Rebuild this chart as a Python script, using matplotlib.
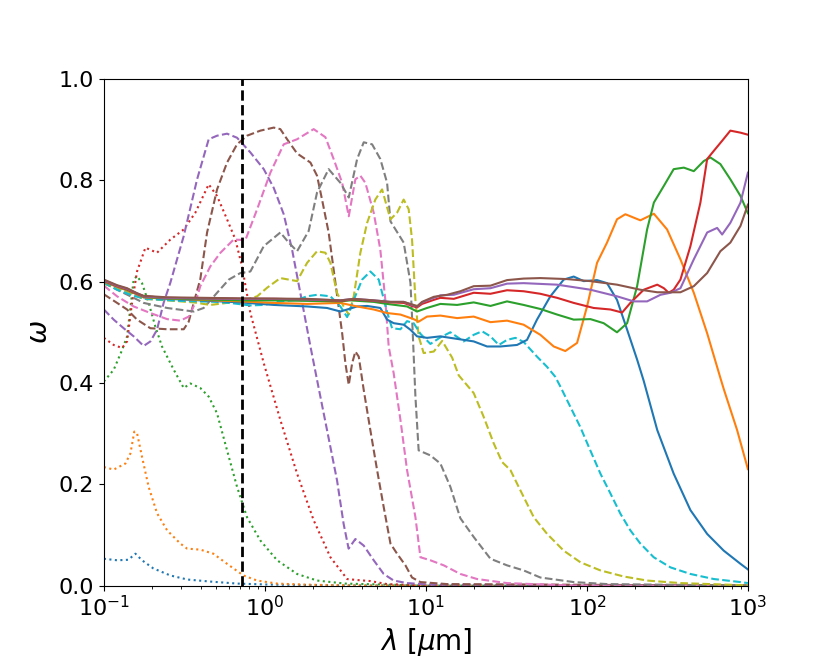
import numpy as np
import matplotlib
matplotlib.use("Agg")
import matplotlib.pyplot as plt

# ---- data: log10(wavelength / um) and single-scattering albedo omega ----
# dotted curves
lg_dot_blue = [-1.0, -0.917, -0.848, -0.804, -0.763, -0.693, -0.587, -0.481, -0.339, -0.171, 0.034, 0.5, 1.0, 3.0]
w_dot_blue = [0.053, 0.050, 0.051, 0.063, 0.050, 0.034, 0.020, 0.012, 0.008, 0.004, 0.002, 0.0005, 0.0, 0.0]

lg_dot_orange = [-1.0, -0.939, -0.866, -0.835, -0.811, -0.794, -0.763, -0.722, -0.670, -0.607, -0.525, -0.483,
                 -0.401, -0.320, -0.235, -0.133, -0.048, 0.076, 0.239, 0.6, 3.0]
w_dot_orange = [0.234, 0.229, 0.241, 0.261, 0.304, 0.301, 0.254, 0.195, 0.143, 0.109, 0.083, 0.073,
                0.071, 0.063, 0.043, 0.020, 0.010, 0.004, 0.002, 0.0, 0.0]

lg_dot_green = [-1.0, -0.939, -0.887, -0.856, -0.815, -0.794, -0.763, -0.722, -0.680, -0.639, -0.566, -0.504,
                -0.463, -0.401, -0.349, -0.297, -0.235, -0.173, -0.111, -0.028, 0.076, 0.200, 0.324, 0.5, 1.0, 3.0]
w_dot_green = [0.403, 0.426, 0.465, 0.492, 0.604, 0.611, 0.597, 0.558, 0.511, 0.472, 0.426, 0.390,
               0.399, 0.390, 0.373, 0.340, 0.267, 0.195, 0.135, 0.089, 0.050, 0.023, 0.010, 0.004, 0.0, 0.0]

lg_dot_red = [-1.0, -0.939, -0.887, -0.856, -0.825, -0.794, -0.742, -0.670, -0.587, -0.504, -0.432, -0.349,
              -0.297, -0.235, -0.183, -0.142, -0.090, -0.007, 0.096, 0.200, 0.303, 0.407, 0.511, 0.573,
              0.655, 0.759, 0.922, 1.3, 3.0]
w_dot_red = [0.489, 0.475, 0.469, 0.482, 0.558, 0.620, 0.667, 0.657, 0.683, 0.703, 0.736, 0.792,
             0.769, 0.723, 0.683, 0.630, 0.538, 0.439, 0.327, 0.221, 0.129, 0.056, 0.013, 0.011,
             0.009, 0.003, 0.001, 0.0, 0.0]

# dashed curves
lg_dash_purple = [-1.0, -0.939, -0.877, -0.815, -0.753, -0.711, -0.670, -0.629, -0.587, -0.504, -0.421, -0.349,
                  -0.297, -0.235, -0.173, -0.090, -0.007, 0.055, 0.117, 0.169, 0.220, 0.283, 0.324, 0.386,
                  0.448, 0.489, 0.520, 0.562, 0.614, 0.676, 0.738, 0.800, 0.883, 1.028, 3.0]
w_dash_purple = [0.545, 0.525, 0.508, 0.492, 0.473, 0.482, 0.505, 0.558, 0.598, 0.690, 0.802, 0.881,
                 0.888, 0.892, 0.884, 0.855, 0.822, 0.785, 0.733, 0.663, 0.578, 0.472, 0.406, 0.307,
                 0.208, 0.122, 0.073, 0.092, 0.079, 0.050, 0.023, 0.010, 0.005, 0.002, 0.0]

lg_dash_brown = [-1.0, -0.918, -0.856, -0.794, -0.711, -0.607, -0.504, -0.473, -0.442, -0.401, -0.359, -0.297,
                 -0.235, -0.173, -0.111, -0.028, 0.055, 0.096, 0.138, 0.200, 0.283, 0.324, 0.355, 0.396,
                 0.438, 0.480, 0.500, 0.521, 0.542, 0.562, 0.583, 0.614, 0.655, 0.697, 0.738, 0.780,
                 0.821, 0.873, 0.914, 0.966, 1.132, 3.0]
w_dash_brown = [0.575, 0.558, 0.545, 0.525, 0.508, 0.506, 0.506, 0.521, 0.558, 0.605, 0.697, 0.782,
                0.835, 0.871, 0.888, 0.898, 0.904, 0.901, 0.881, 0.853, 0.835, 0.809, 0.762, 0.697,
                0.598, 0.498, 0.439, 0.396, 0.439, 0.462, 0.452, 0.386, 0.307, 0.228, 0.155, 0.083,
                0.063, 0.040, 0.016, 0.007, 0.003, 0.0]

lg_dash_pink = [-1.0, -0.918, -0.815, -0.711, -0.607, -0.525, -0.473, -0.432, -0.401, -0.339, -0.276, -0.194,
                -0.121, -0.048, 0.034, 0.117, 0.200, 0.303, 0.376, 0.427, 0.480, 0.521, 0.562, 0.593,
                0.624, 0.676, 0.717, 0.748, 0.769, 0.800, 0.842, 0.883, 0.935, 0.966, 1.028, 1.111,
                1.214, 1.318, 1.504, 1.916, 3.0]
w_dash_pink = [0.592, 0.571, 0.551, 0.538, 0.526, 0.523, 0.531, 0.558, 0.591, 0.630, 0.657, 0.683,
               0.682, 0.743, 0.815, 0.871, 0.881, 0.901, 0.885, 0.842, 0.795, 0.729, 0.802, 0.809,
               0.795, 0.736, 0.663, 0.564, 0.472, 0.419, 0.327, 0.228, 0.135, 0.056, 0.050, 0.040,
               0.023, 0.013, 0.005, 0.0, 0.0]

lg_dash_gray = [-1.0, -0.918, -0.815, -0.753, -0.607, -0.442, -0.380, -0.297, -0.224, -0.152, -0.090, -0.007,
                0.096, 0.148, 0.200, 0.272, 0.324, 0.396, 0.469, 0.521, 0.573, 0.614, 0.666, 0.717,
                0.759, 0.780, 0.862, 0.904, 0.914, 0.935, 0.955, 1.028, 1.090, 1.152, 1.214, 1.297,
                1.401, 1.504, 1.607, 1.711, 1.918, 2.126, 3.0]
w_dash_gray = [0.598, 0.584, 0.568, 0.558, 0.548, 0.541, 0.548, 0.578, 0.604, 0.617, 0.620, 0.670,
               0.697, 0.677, 0.660, 0.700, 0.776, 0.822, 0.795, 0.766, 0.842, 0.875, 0.871, 0.842,
               0.795, 0.719, 0.677, 0.598, 0.531, 0.373, 0.267, 0.257, 0.241, 0.195, 0.133, 0.096,
               0.053, 0.040, 0.030, 0.016, 0.007, 0.003, 0.0]

lg_dash_olive = [-1.0, -0.898, -0.815, -0.753, -0.607, -0.442, -0.339, -0.235, -0.152, -0.048, 0.014, 0.096,
                 0.148, 0.200, 0.262, 0.324, 0.376, 0.407, 0.448, 0.489, 0.521, 0.552, 0.593, 0.635,
                 0.686, 0.728, 0.780, 0.821, 0.862, 0.893, 0.914, 0.935, 0.955, 0.986, 1.049, 1.101,
                 1.163, 1.204, 1.297, 1.359, 1.421, 1.473, 1.525, 1.587, 1.670, 1.753, 1.856, 1.960,
                 2.084, 2.229, 2.374, 2.581, 2.954, 3.0]
w_dash_olive = [0.596, 0.584, 0.574, 0.566, 0.563, 0.559, 0.554, 0.558, 0.561, 0.571, 0.588, 0.607,
                0.604, 0.601, 0.637, 0.660, 0.657, 0.637, 0.578, 0.551, 0.535, 0.571, 0.657, 0.716,
                0.762, 0.782, 0.723, 0.736, 0.762, 0.743, 0.683, 0.564, 0.492, 0.459, 0.462, 0.483,
                0.450, 0.415, 0.380, 0.333, 0.281, 0.244, 0.228, 0.188, 0.135, 0.102, 0.069, 0.046,
                0.030, 0.018, 0.010, 0.005, 0.001, 0.001]

lg_dash_cyan = [-1.0, -0.918, -0.815, -0.742, -0.525, -0.297, -0.194, -0.090, -0.007, 0.096, 0.200, 0.262,
                0.324, 0.407, 0.469, 0.511, 0.552, 0.604, 0.655, 0.707, 0.759, 0.790, 0.842, 0.883,
                0.924, 0.966, 1.028, 1.090, 1.152, 1.235, 1.297, 1.349, 1.401, 1.453, 1.504, 1.556,
                1.607, 1.690, 1.752, 1.804, 1.835, 1.897, 1.959, 2.021, 2.084, 2.146, 2.208, 2.270,
                2.332, 2.415, 2.519, 2.643, 2.788, 2.954, 3.0]
w_dash_cyan = [0.598, 0.584, 0.572, 0.566, 0.562, 0.560, 0.557, 0.553, 0.554, 0.561, 0.564, 0.571,
               0.574, 0.571, 0.551, 0.530, 0.564, 0.604, 0.620, 0.604, 0.540, 0.508, 0.506, 0.522,
               0.518, 0.497, 0.477, 0.490, 0.500, 0.482, 0.495, 0.502, 0.492, 0.475, 0.485, 0.489,
               0.481, 0.452, 0.432, 0.412, 0.393, 0.353, 0.313, 0.267, 0.221, 0.182, 0.142, 0.109,
               0.083, 0.056, 0.036, 0.023, 0.013, 0.007, 0.005]

# solid curves
lg_sol_blue = [-1.0, -0.918, -0.856, -0.794, -0.753, -0.607, -0.401, -0.152, 0.055, 0.262, 0.386, 0.469,
               0.511, 0.573, 0.635, 0.717, 0.759, 0.800, 0.862, 0.904, 0.945, 1.007, 1.090, 1.152,
               1.235, 1.297, 1.380, 1.463, 1.566, 1.628, 1.690, 1.773, 1.856, 1.918, 1.980, 2.063,
               2.125, 2.187, 2.250, 2.312, 2.353, 2.437, 2.539, 2.643, 2.747, 2.850, 2.954, 3.0]
w_sol_blue = [0.600, 0.590, 0.583, 0.575, 0.569, 0.566, 0.563, 0.559, 0.554, 0.551, 0.548, 0.541,
              0.545, 0.551, 0.552, 0.548, 0.525, 0.518, 0.515, 0.505, 0.492, 0.489, 0.492, 0.489,
              0.485, 0.482, 0.472, 0.472, 0.475, 0.485, 0.525, 0.571, 0.604, 0.610, 0.601, 0.603,
              0.597, 0.564, 0.505, 0.446, 0.404, 0.307, 0.221, 0.149, 0.102, 0.069, 0.043, 0.032]

lg_sol_orange = [-1.0, -0.918, -0.856, -0.794, -0.753, -0.607, -0.401, -0.152, 0.055, 0.262, 0.469, 0.573,
                 0.676, 0.759, 0.842, 0.924, 0.955, 1.007, 1.090, 1.194, 1.297, 1.401, 1.504, 1.607,
                 1.711, 1.794, 1.866, 1.939, 2.001, 2.063, 2.125, 2.187, 2.239, 2.332, 2.416, 2.498,
                 2.581, 2.664, 2.747, 2.829, 2.850, 2.933, 3.0]
w_sol_orange = [0.600, 0.590, 0.583, 0.575, 0.569, 0.567, 0.564, 0.561, 0.558, 0.556, 0.558, 0.551,
                0.545, 0.538, 0.535, 0.526, 0.521, 0.531, 0.533, 0.528, 0.531, 0.520, 0.523, 0.515,
                0.495, 0.472, 0.463, 0.479, 0.551, 0.637, 0.677, 0.723, 0.733, 0.721, 0.734, 0.703,
                0.644, 0.578, 0.498, 0.410, 0.388, 0.307, 0.230]

lg_sol_green = [-1.0, -0.918, -0.856, -0.794, -0.753, -0.607, -0.401, -0.152, 0.055, 0.262, 0.469, 0.531,
                0.676, 0.759, 0.883, 0.945, 1.007, 1.090, 1.194, 1.297, 1.401, 1.504, 1.607, 1.711,
                1.815, 1.918, 2.022, 2.104, 2.187, 2.250, 2.312, 2.374, 2.416, 2.478, 2.539, 2.602,
                2.664, 2.726, 2.767, 2.829, 2.891, 2.954, 3.0]
w_sol_green = [0.601, 0.591, 0.584, 0.576, 0.570, 0.567, 0.565, 0.563, 0.563, 0.562, 0.561, 0.563,
               0.560, 0.556, 0.551, 0.541, 0.548, 0.556, 0.554, 0.559, 0.552, 0.561, 0.554, 0.546,
               0.535, 0.525, 0.526, 0.518, 0.500, 0.518, 0.591, 0.703, 0.756, 0.789, 0.822, 0.825,
               0.818, 0.838, 0.845, 0.832, 0.802, 0.769, 0.735]

lg_sol_red = [-1.0, -0.918, -0.856, -0.794, -0.753, -0.607, -0.401, -0.152, 0.055, 0.262, 0.469, 0.552,
              0.676, 0.780, 0.862, 0.924, 0.945, 0.976, 1.049, 1.090, 1.173, 1.297, 1.401, 1.504,
              1.607, 1.711, 1.815, 1.918, 2.042, 2.146, 2.219, 2.270, 2.353, 2.437, 2.478, 2.508,
              2.539, 2.581, 2.643, 2.705, 2.747, 2.788, 2.840, 2.891, 2.954, 3.0]
w_sol_red = [0.602, 0.591, 0.585, 0.576, 0.571, 0.568, 0.567, 0.566, 0.566, 0.565, 0.562, 0.565,
             0.562, 0.559, 0.558, 0.551, 0.549, 0.556, 0.564, 0.568, 0.566, 0.578, 0.576, 0.583,
             0.581, 0.576, 0.568, 0.558, 0.548, 0.545, 0.539, 0.558, 0.584, 0.594, 0.587, 0.578,
             0.584, 0.604, 0.670, 0.756, 0.842, 0.858, 0.878, 0.898, 0.894, 0.890]

lg_sol_purple = [-1.0, -0.918, -0.856, -0.794, -0.753, -0.607, -0.401, -0.152, 0.055, 0.262, 0.469, 0.552,
                 0.676, 0.780, 0.862, 0.924, 0.945, 0.976, 1.049, 1.090, 1.173, 1.297, 1.401, 1.504,
                 1.607, 1.815, 2.022, 2.187, 2.291, 2.374, 2.457, 2.519, 2.581, 2.664, 2.747, 2.809,
                 2.840, 2.891, 2.954, 3.0]
w_sol_purple = [0.603, 0.592, 0.586, 0.577, 0.571, 0.568, 0.567, 0.566, 0.566, 0.565, 0.563, 0.566,
                0.563, 0.560, 0.560, 0.553, 0.551, 0.559, 0.568, 0.573, 0.574, 0.585, 0.587, 0.596,
                0.597, 0.594, 0.584, 0.571, 0.561, 0.561, 0.574, 0.578, 0.587, 0.644, 0.697, 0.706,
                0.693, 0.716, 0.756, 0.815]

lg_sol_brown = [-1.0, -0.918, -0.856, -0.794, -0.753, -0.607, -0.152, 0.262, 0.469, 0.552, 0.676, 0.780,
                0.862, 0.924, 0.945, 0.976, 1.049, 1.132, 1.214, 1.297, 1.401, 1.504, 1.607, 1.711,
                1.877, 2.022, 2.187, 2.332, 2.437, 2.581, 2.664, 2.747, 2.829, 2.891, 2.954, 3.0]
w_sol_brown = [0.604, 0.593, 0.587, 0.577, 0.572, 0.569, 0.567, 0.566, 0.563, 0.566, 0.563, 0.560,
               0.560, 0.554, 0.551, 0.560, 0.570, 0.574, 0.581, 0.591, 0.592, 0.603, 0.606, 0.607,
               0.605, 0.601, 0.594, 0.584, 0.579, 0.579, 0.591, 0.617, 0.660, 0.677, 0.710, 0.752]

lam_marker = 0.716  # vertical dashed line position (um)

curves = [
    (lg_dot_blue, w_dot_blue, "C0", ":"),
    (lg_dot_orange, w_dot_orange, "C1", ":"),
    (lg_dot_green, w_dot_green, "C2", ":"),
    (lg_dot_red, w_dot_red, "C3", ":"),
    (lg_dash_purple, w_dash_purple, "C4", "--"),
    (lg_dash_brown, w_dash_brown, "C5", "--"),
    (lg_dash_pink, w_dash_pink, "C6", "--"),
    (lg_dash_gray, w_dash_gray, "C7", "--"),
    (lg_dash_olive, w_dash_olive, "C8", "--"),
    (lg_dash_cyan, w_dash_cyan, "C9", "--"),
    (lg_sol_blue, w_sol_blue, "C0", "-"),
    (lg_sol_orange, w_sol_orange, "C1", "-"),
    (lg_sol_green, w_sol_green, "C2", "-"),
    (lg_sol_red, w_sol_red, "C3", "-"),
    (lg_sol_purple, w_sol_purple, "C4", "-"),
    (lg_sol_brown, w_sol_brown, "C5", "-"),
]

fig, ax = plt.subplots(figsize=(8.31, 6.58), dpi=100)
for lg, w, c, ls in curves:
    ax.plot(10.0 ** np.array(lg), w, color=c, linestyle=ls, linewidth=1.5)

ax.axvline(lam_marker, color="black", linestyle="--", linewidth=2)

ax.set_xscale("log")
ax.set_xlim(0.1, 1000)
ax.set_ylim(0.0, 1.0)
ax.set_yticks([0.0, 0.2, 0.4, 0.6, 0.8, 1.0])
ax.tick_params(axis="both", which="major", labelsize=16)
ax.set_xlabel(r"$\lambda$ [$\mu$m]", fontsize=20)
ax.set_ylabel(r"$\omega$", fontsize=20)

fig.savefig("out.png", dpi=100)
